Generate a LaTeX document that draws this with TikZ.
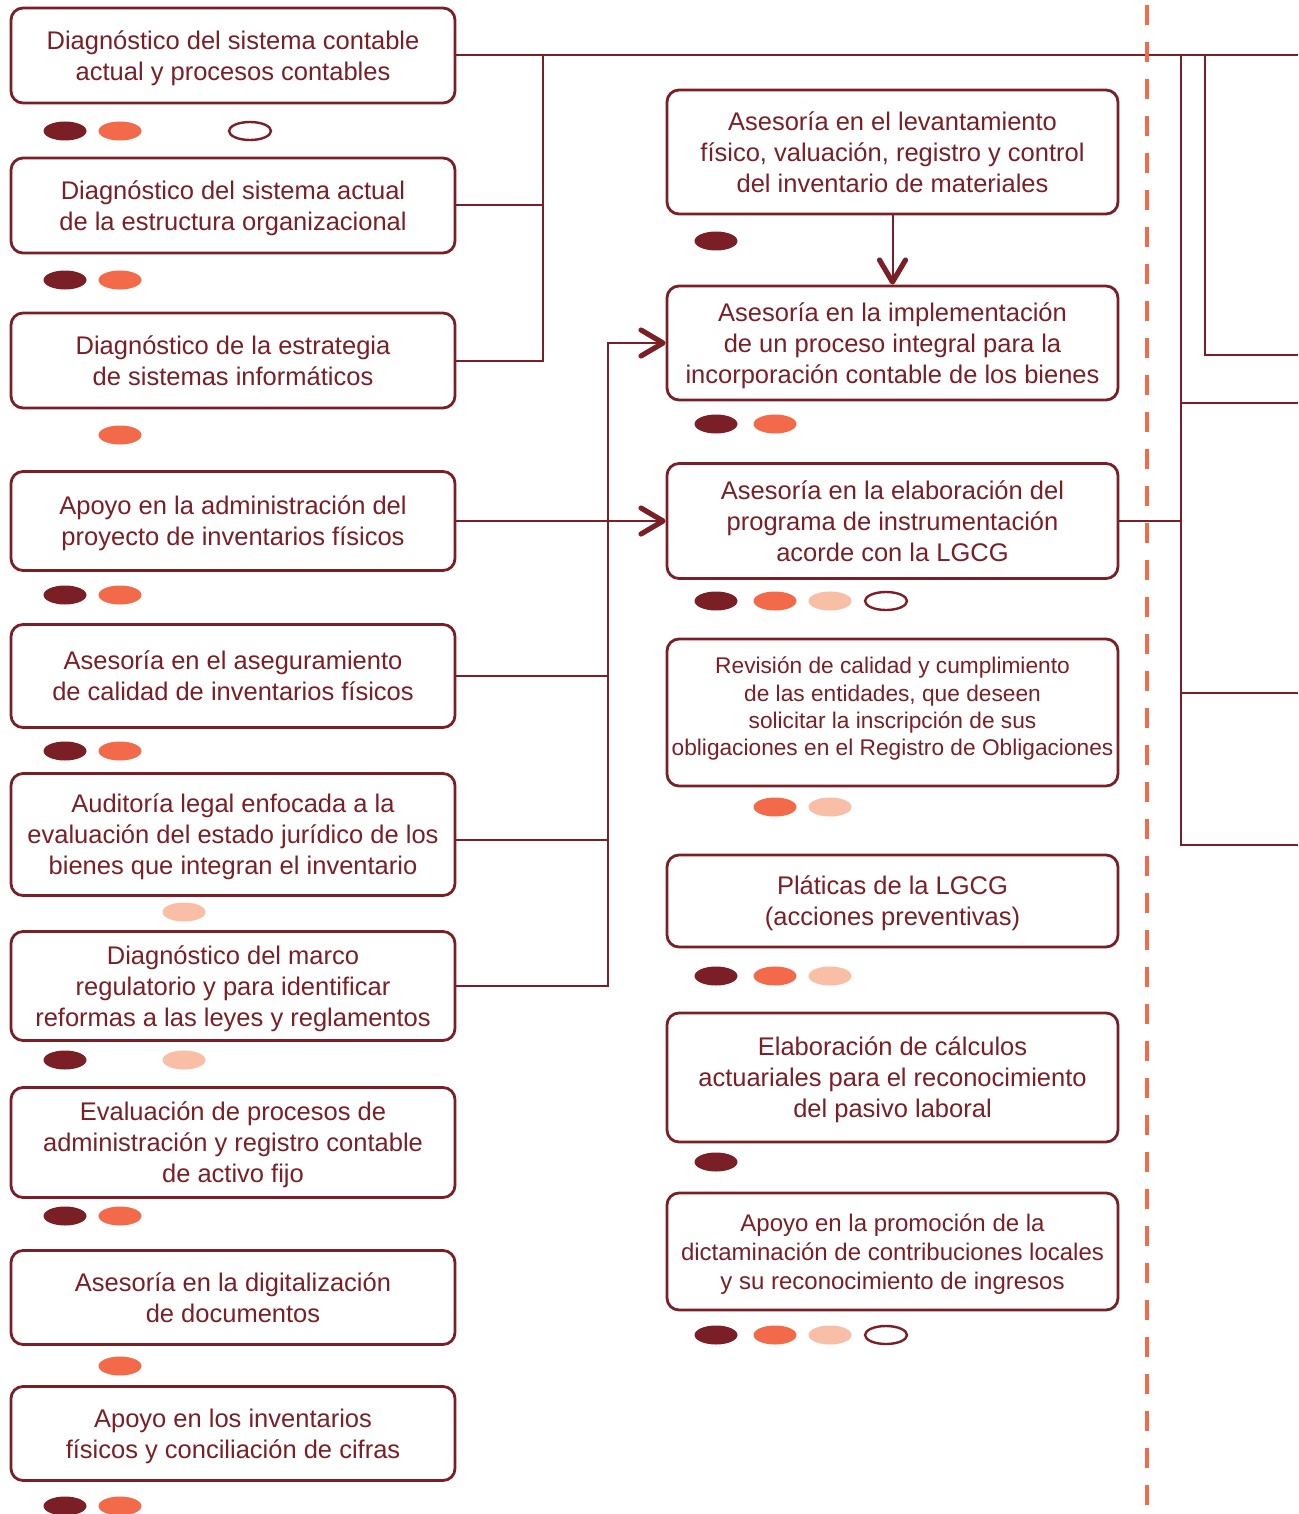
\documentclass[tikz,border=0pt]{standalone}
\usepackage{fontspec}
\setmainfont{Liberation Sans}
\usetikzlibrary{arrows.meta,positioning,shapes.geometric}
\definecolor{wine}{HTML}{7A1F25}
\definecolor{coral}{HTML}{F26A4A}
\definecolor{peach}{HTML}{F8BEA6}
\tikzset{%
  >={Straight Barb[length=11pt,width=13pt,line width=2.6pt,round]},
  % Specifications for style of nodes:
        service/.style = {rectangle, rounded corners=6pt, draw=wine, line width=1.4pt,
                          fill=white, text=wine, align=center, inner sep=2pt,
                          font=\fontsize{12.75}{15.5}\selectfont},
    serviceLeft/.style = {service, minimum width=222pt},
   serviceRight/.style = {service, minimum width=225.5pt},
  % text box from cap top of first row to baseline of last row
        twoRows/.style = {text height=24.6pt, text depth=0pt},
      threeRows/.style = {text height=40.1pt, text depth=0pt},
      smallText/.style = {font=\fontsize{11.35}{13.65}\selectfont,
                          text height=43.1pt, text depth=0pt},
        dotBase/.style = {ellipse, minimum width=21.5pt, minimum height=9.5pt, inner sep=0pt},
        darkDot/.style = {dotBase, fill=wine},
       coralDot/.style = {dotBase, fill=coral},
       peachDot/.style = {dotBase, fill=peach},
       emptyDot/.style = {dotBase, draw=wine, line width=1.2pt,
                          minimum width=21pt, minimum height=9pt},
           link/.style = {draw=wine, line width=1pt},
        cutLine/.style = {draw=coral, line width=2pt, dash pattern=on 10pt off 8.5pt},
}
\begin{document}
\begin{tikzpicture}[x=0.5pt, y=-0.5pt, node distance=77.5pt]
  \useasboundingbox (0,0) rectangle (1298,1514);
  % Left column of services
  \node (diagContable) [serviceLeft, twoRows, minimum height=47.5pt] at (233,55.5) {Diagnóstico del sistema contable\\actual y procesos contables};
  \node (diagEstructura) [serviceLeft, twoRows, minimum height=47.5pt, below of=diagContable, yshift=2.5pt] {Diagnóstico del sistema actual\\de la estructura organizacional};
  \node (diagEstrategia) [serviceLeft, twoRows, minimum height=47.5pt, below of=diagEstructura] {Diagnóstico de la estrategia\\de sistemas informáticos};
  \node (apoyoAdmin) [serviceLeft, twoRows, minimum height=49.5pt, below of=diagEstrategia, yshift=-2.75pt] {Apoyo en la administración del\\proyecto de inventarios físicos};
  \node (aseguramiento) [serviceLeft, twoRows, minimum height=51.5pt, below of=apoyoAdmin] {Asesoría en el aseguramiento\\de calidad de inventarios físicos};
  \node (auditoria) [serviceLeft, threeRows, minimum height=61pt, below of=aseguramiento, yshift=-1.75pt] {Auditoría legal enfocada a la\\evaluación del estado jurídico de los\\bienes que integran el inventario};
  \node (marcoRegulatorio) [serviceLeft, threeRows, minimum height=54.5pt, below of=auditoria, yshift=1.75pt] {Diagnóstico del marco\\regulatorio y para identificar\\reformas a las leyes y reglamentos};
  \node (activoFijo) [serviceLeft, threeRows, minimum height=55pt, below of=marcoRegulatorio, yshift=-0.75pt] {Evaluación de procesos de\\administración y registro contable\\de activo fijo};
  \node (digitalizacion) [serviceLeft, twoRows, minimum height=47pt, below of=activoFijo] {Asesoría en la digitalización\\de documentos};
  \node (conciliacion) [serviceLeft, twoRows, minimum height=47pt, below of=digitalizacion, yshift=9.5pt] {Apoyo en los inventarios\\físicos y conciliación de cifras};
  % Right column of services
  \node (levantamiento) [serviceRight, threeRows, minimum height=62pt] at (892.5,152) {Asesoría en el levantamiento\\físico, valuación, registro y control\\del inventario de materiales};
  \node (implementacion) [serviceRight, threeRows, minimum height=57pt, below of=levantamiento, yshift=-18pt] {Asesoría en la implementación\\de un proceso integral para la\\incorporación contable de los bienes};
  \node (instrumentacion) [serviceRight, threeRows, minimum height=57.5pt, below of=implementacion, yshift=-11.5pt] {Asesoría en la elaboración del\\programa de instrumentación\\acorde con la LGCG};
  \node (revision) [serviceRight, smallText, minimum height=73.5pt, below of=instrumentacion, yshift=-18.25pt] {Revisión de calidad y cumplimiento\\de las entidades, que deseen\\solicitar la inscripción de sus\\obligaciones en el Registro de Obligaciones};
  \node (platicas) [serviceRight, twoRows, minimum height=46pt, below of=revision, yshift=-16.75pt] {Pláticas de la LGCG\\(acciones preventivas)};
  \node (actuariales) [serviceRight, threeRows, minimum height=64.5pt, below of=platicas, yshift=-10.75pt] {Elaboración de cálculos\\actuariales para el reconocimiento\\del pasivo laboral};
  \node (dictaminacion) [serviceRight, font=\fontsize{12}{14.5}\selectfont, text height=37.6pt, text depth=0pt, minimum height=58.5pt, below of=actuariales, yshift=-9.5pt] {Apoyo en la promoción de la\\dictaminación de contribuciones locales\\y su reconocimiento de ingresos};
  % Marks under each service
  \node (m1a) [darkDot] at (65,131) {}; \node (m1b) [coralDot] at (120,131) {}; \node (m1c) [emptyDot] at (250,131) {};
  \node (m2a) [darkDot] at (65,280) {}; \node (m2b) [coralDot] at (120,280) {};
  \node (m3b) [coralDot] at (120,435) {};
  \node (m4a) [darkDot] at (65,595) {}; \node (m4b) [coralDot] at (120,595) {};
  \node (m5a) [darkDot] at (65,751) {}; \node (m5b) [coralDot] at (120,751) {};
  \node (m6c) [peachDot] at (184,912) {};
  \node (m7a) [darkDot] at (65,1060) {}; \node (m7c) [peachDot] at (184,1060) {};
  \node (m8a) [darkDot] at (65,1216) {}; \node (m8b) [coralDot] at (120,1216) {};
  \node (m9b) [coralDot] at (120,1366) {};
  \node (m10a) [darkDot] at (65,1506) {}; \node (m10b) [coralDot] at (120,1506) {};
  \node (r1a) [darkDot] at (716,241) {};
  \node (r2a) [darkDot] at (716,424) {}; \node (r2b) [coralDot] at (775,424) {};
  \node (r3a) [darkDot] at (716,601) {}; \node (r3b) [coralDot] at (775,601) {}; \node (r3c) [peachDot] at (830,601) {}; \node (r3d) [emptyDot] at (886,601) {};
  \node (r4b) [coralDot] at (775,807) {}; \node (r4c) [peachDot] at (830,807) {};
  \node (r5a) [darkDot] at (716,976) {}; \node (r5b) [coralDot] at (775,976) {}; \node (r5c) [peachDot] at (830,976) {};
  \node (r6a) [darkDot] at (716,1162) {};
  \node (r7a) [darkDot] at (716,1335) {}; \node (r7b) [coralDot] at (775,1335) {}; \node (r7c) [peachDot] at (830,1335) {}; \node (r7d) [emptyDot] at (886,1335) {};
  % Buses and loose ends
  \coordinate (rim) at (1298,0);
  \coordinate (busLeft) at (543,0);
  \coordinate (busMid) at (608,0);
  \coordinate (busRight) at (1181,0);
  \coordinate (busOuter) at (1205,0);
  \coordinate (outA) at (1298,355);
  \coordinate (outB) at (1298,403);
  \coordinate (outC) at (1298,693);
  \coordinate (outD) at (1298,845);
  \coordinate (cutTop) at (1147,5);
  \coordinate (cutBottom) at (1147,1514);
  % Lines between nodes
  \draw[link] (diagContable) -- (diagContable -| rim);
  \draw[link] (diagEstrategia) -| (diagContable -| busLeft);
  \draw[link] (diagEstructura) -- (diagEstructura -| busLeft);
  \draw[link,->] (levantamiento) -- (implementacion);
  \draw[link,->] (marcoRegulatorio) -| (implementacion -| busMid) -- (implementacion);
  \draw[link] (aseguramiento) -- (aseguramiento -| busMid);
  \draw[link] ([yshift=-2.5pt]auditoria.east) -- ([yshift=-2.5pt]auditoria.east -| busMid);
  \draw[link,->] (apoyoAdmin) -- (instrumentacion);
  \draw[link] (instrumentacion) -- (instrumentacion -| busRight);
  \draw[link] (diagContable -| busOuter) |- (outA);
  \draw[link] (diagContable -| busRight) |- (outD);
  \draw[link] (outB -| busRight) -- (outB);
  \draw[link] (outC -| busRight) -- (outC);
  \draw[cutLine] (cutTop) -- (cutBottom);
\end{tikzpicture}
\end{document}
